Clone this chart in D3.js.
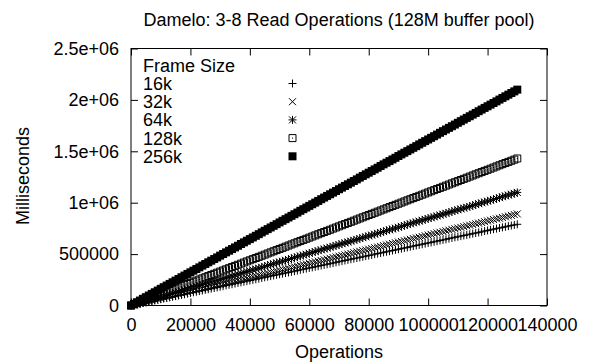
<!DOCTYPE html>
<html>
<head>
<meta charset="utf-8">
<script src="https://cdn.jsdelivr.net/npm/d3@7"></script>
<style>
  body { margin: 0; background: #fff; }
  svg { display: block; }
  text { font-family: "Liberation Sans", Arial, sans-serif; font-size: 18px; fill: #000; }
</style>
</head>
<body>
<svg id="chart" width="592" height="364"></svg>
<script>
// Number of read operations, in thousands
const opsK = [0,1,2,3,4,5,6,7,8,9,10,11,12,13,14,15,16,17,18,19,20,21,22,23,24,25,26,27,28,29,30,31,32,33,34,35,36,37,38,39,40,41,42,43,44,45,46,47,48,49,50,51,52,53,54,55,56,57,58,59,60,61,62,63,64,65,66,67,68,69,70,71,72,73,74,75,76,77,78,79,80,81,82,83,84,85,86,87,88,89,90,91,92,93,94,95,96,97,98,99,100,101,102,103,104,105,106,107,108,109,110,111,112,113,114,115,116,117,118,119,120,121,122,123,124,125,126,127,128,129,130];

// Elapsed time per frame size, in thousands of milliseconds
const ms16k = [0,6,12,18,24,30,36,43,49,55,61,67,73,79,85,91,97,103,109,116,122,128,134,140,146,152,158,164,170,176,182,188,195,201,207,213,219,225,231,237,243,249,255,261,268,274,280,286,292,298,304,310,316,322,328,334,340,347,353,359,365,371,377,383,389,395,401,407,413,420,426,432,438,444,450,456,462,468,474,480,486,492,499,505,511,517,523,529,535,541,547,553,559,565,572,578,584,590,596,602,608,614,620,626,632,638,644,651,657,663,669,675,681,687,693,699,705,711,717,724,730,736,742,748,754,760,766,772,778,784,790];
const ms32k = [0,7,14,21,27,34,41,48,55,62,69,75,82,89,96,103,110,116,123,130,137,144,151,158,164,171,178,185,192,199,206,212,219,226,233,240,247,253,260,267,274,281,288,295,301,308,315,322,329,336,343,349,356,363,370,377,384,390,397,404,411,418,425,432,438,445,452,459,466,473,480,486,493,500,507,514,521,527,534,541,548,555,562,569,575,582,589,596,603,610,617,623,630,637,644,651,658,664,671,678,685,692,699,706,712,719,726,733,740,747,754,760,767,774,781,788,795,801,808,815,822,829,836,843,849,856,863,870,877,884,891];
const ms64k = [0,8,17,25,34,42,51,59,68,76,85,93,102,110,118,127,135,144,152,161,169,178,186,195,203,212,220,228,237,245,254,262,271,279,288,296,305,313,321,330,338,347,355,364,372,381,389,398,406,415,423,431,440,448,457,465,474,482,491,499,508,516,525,533,541,550,558,567,575,584,592,601,609,618,626,635,643,651,660,668,677,685,694,702,711,719,728,736,744,753,761,770,778,787,795,804,812,821,829,838,846,854,863,871,880,888,897,905,914,922,931,939,948,956,964,973,981,990,998,1007,1015,1024,1032,1041,1049,1058,1066,1074,1083,1091,1100];
const ms128k = [0,11,22,33,44,55,66,77,88,99,110,121,132,143,154,165,176,187,198,209,220,231,242,253,264,275,286,297,308,319,330,341,352,363,374,385,396,407,418,429,440,451,462,473,484,495,506,517,528,539,550,561,572,583,594,605,616,627,638,649,660,671,682,693,704,715,726,737,748,759,770,781,792,803,814,825,836,847,858,869,880,891,902,913,924,935,946,957,968,979,990,1001,1012,1023,1034,1045,1056,1067,1078,1089,1100,1111,1122,1133,1144,1155,1166,1177,1188,1199,1210,1221,1232,1243,1254,1265,1276,1287,1298,1309,1320,1331,1342,1353,1364,1375,1386,1397,1408,1419,1430];
const ms256k = [0,16,32,48,65,81,97,113,129,145,162,178,194,210,226,242,258,275,291,307,323,339,355,371,388,404,420,436,452,468,485,501,517,533,549,565,581,598,614,630,646,662,678,694,711,727,743,759,775,791,808,824,840,856,872,888,904,921,937,953,969,985,1001,1017,1034,1050,1066,1082,1098,1114,1131,1147,1163,1179,1195,1211,1227,1244,1260,1276,1292,1308,1324,1340,1357,1373,1389,1405,1421,1437,1454,1470,1486,1502,1518,1534,1550,1567,1583,1599,1615,1631,1647,1663,1680,1696,1712,1728,1744,1760,1777,1793,1809,1825,1841,1857,1873,1890,1906,1922,1938,1954,1970,1986,2003,2019,2035,2051,2067,2083,2100];

const frameSizes = ["16k", "32k", "64k", "128k", "256k"];
const pointTypes = ["plus", "cross", "star", "box", "filledBox"];

const xTicks = [0, 20000, 40000, 60000, 80000, 100000, 120000, 140000];
const xTickLabels = ["0", "20000", "40000", "60000", "80000", "100000", "120000", "140000"];
const yTicks = [0, 500000, 1000000, 1500000, 2000000, 2500000];
const yTickLabels = ["0", "500000", "1e+06", "1.5e+06", "2e+06", "2.5e+06"];

const titleText = "Damelo: 3-8 Read Operations (128M buffer pool)";
const xLabelText = "Operations";
const yLabelText = "Milliseconds";
const legendTitle = "Frame Size";

const seriesValues = [ms16k, ms32k, ms64k, ms128k, ms256k];
const series = frameSizes.map((name, k) => ({
  name,
  type: pointTypes[k],
  points: opsK.map((o, i) => ({ ops: o * 1000, ms: seriesValues[k][i] * 1000 }))
}));

const svg = d3.select("#chart");
const plotLeft = 131, plotRight = 547, plotTop = 48.5, plotBottom = 305.5;

const x = d3.scaleLinear().domain([0, 140000]).range([plotLeft, plotRight]);
const y = d3.scaleLinear().domain([0, 2500000]).range([plotBottom, plotTop]);

// Marker shapes, centred on the data point
const shapes = {
  plus: "M-4,0H4M0,-4V4",
  cross: "M-3.5,-3.5L3.5,3.5M-3.5,3.5L3.5,-3.5",
  star: "M-4,0H4M0,-4V4M-3.5,-3.5L3.5,3.5M-3.5,3.5L3.5,-3.5",
  box: "M-3.5,-3.5H3.5V3.5H-3.5Z M-0.5,0H0.5",
  filledBox: "M-4,-4H4V4H-4Z"
};
function drawMarker(sel, type) {
  sel.attr("d", shapes[type])
    .attr("fill", type === "filledBox" ? "#000" : "none")
    .attr("stroke", "#000")
    .attr("stroke-width", type === "filledBox" ? 0 : 1);
}

// Axes: ticks point inward, mirrored on top and right
const fmtX = (d, i) => xTickLabels[i];
const fmtY = (d, i) => yTickLabels[i];

const gx = svg.append("g").attr("transform", `translate(0,${plotBottom})`)
  .call(d3.axisBottom(x).tickValues(xTicks).tickFormat(fmtX).tickSize(-7).tickSizeOuter(0).tickPadding(12.5));
const gxTop = svg.append("g").attr("transform", `translate(0,${plotTop})`)
  .call(d3.axisTop(x).tickValues(xTicks).tickFormat("").tickSize(-7).tickSizeOuter(0));
const gy = svg.append("g").attr("transform", `translate(${plotLeft},0)`)
  .call(d3.axisLeft(y).tickValues(yTicks).tickFormat(fmtY).tickSize(-7).tickSizeOuter(0).tickPadding(12));
const gyRight = svg.append("g").attr("transform", `translate(${plotRight},0)`)
  .call(d3.axisRight(y).tickValues(yTicks).tickFormat("").tickSize(-7).tickSizeOuter(0));

[gx, gxTop, gy, gyRight].forEach(g => {
  g.select(".domain").remove();
  g.selectAll("line").attr("stroke", "#000").attr("stroke-width", 1);
  g.selectAll("text").attr("font-family", null).attr("font-size", null).attr("fill", "#000");
});

svg.append("rect")
  .attr("x", plotLeft).attr("y", plotTop)
  .attr("width", plotRight - plotLeft).attr("height", plotBottom - plotTop)
  .attr("fill", "none").attr("stroke", "#000").attr("stroke-width", 1);

// Data points, one group per frame size
series.forEach(s => {
  svg.append("g").attr("class", "series")
    .selectAll("path").data(s.points).join("path")
    .attr("transform", d => `translate(${x(d.ops)},${y(d.ms)})`)
    .call(drawMarker, s.type);
});

// Legend
const legendX = 143, sampleX = 292.5, legendTop = 71.7, rowGap = 18.2;
svg.append("text").attr("x", legendX).attr("y", legendTop).text(legendTitle);
series.forEach((s, k) => {
  const by = legendTop + rowGap * (k + 1);
  svg.append("text").attr("x", legendX).attr("y", by).text(s.name);
  svg.append("path").attr("transform", `translate(${sampleX},${by - 6.4})`).call(drawMarker, s.type);
});

// Titles
svg.append("text").attr("x", (plotLeft + plotRight) / 2).attr("y", 26).attr("text-anchor", "middle").text(titleText);
svg.append("text").attr("x", (plotLeft + plotRight) / 2).attr("y", 358).attr("text-anchor", "middle").text(xLabelText);
svg.append("text").attr("transform", "translate(29,176) rotate(-90)").attr("text-anchor", "middle").text(yLabelText);
</script>
</body>
</html>
